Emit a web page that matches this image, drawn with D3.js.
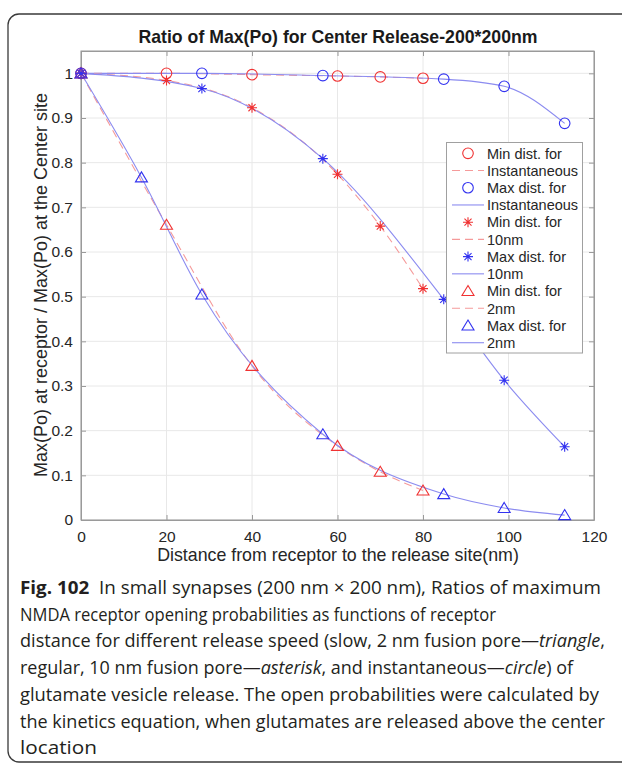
<!DOCTYPE html>
<html><head><meta charset="utf-8">
<script src="https://cdn.jsdelivr.net/npm/d3@7"></script>
<style>body{margin:0;background:#fff}</style>
</head><body><svg id="c" width="622" height="765"></svg>
<script>
// ---- data ----
const xTicks = [0, 20, 40, 60, 80, 100, 120];
const yTicks = [0, 0.1, 0.2, 0.3, 0.4, 0.5, 0.6, 0.7, 0.8, 0.9, 1];
const yTickLabels = ["0", "0.1", "0.2", "0.3", "0.4", "0.5", "0.6", "0.7", "0.8", "0.9", "1"];

const minDist = [0, 20, 40, 60, 70, 80];
const maxDist = [0, 28.28, 56.57, 84.85, 98.99, 113.14];
const maxDist2nm = [0, 14.14, 28.28, 56.57, 84.85, 98.99, 113.14];

const instMin = [1, 1.0, 0.997, 0.994, 0.992, 0.989];
const instMax = [1, 1.0, 0.995, 0.987, 0.971, 0.888];
const tenMin = [1, 0.984, 0.923, 0.774, 0.658, 0.518];
const tenMax = [1, 0.966, 0.809, 0.494, 0.313, 0.164];
const twoMin = [1, 0.661, 0.345, 0.166, 0.108, 0.066];
const twoMax = [1, 0.767, 0.505, 0.192, 0.058, 0.027, 0.011];

const legendLabels = ["Min dist. for", "Instantaneous", "Max dist. for", "Instantaneous",
  "Min dist. for", "10nm", "Max dist. for", "10nm",
  "Min dist. for", "2nm", "Max dist. for", "2nm"];

const titleText = "Ratio of Max(Po) for Center Release-200*200nm";
const xLabel = "Distance from receptor to the release site(nm)";
const yLabel = "Max(Po) at receptor / Max(Po) at the Center site";

const captionLines = [
  [["b", "Fig. 102"], ["n", "  In small synapses (200 nm \u00d7 200 nm), Ratios of maximum"]],
  [["n", "NMDA receptor opening probabilities as functions of receptor"]],
  [["n", "distance for different release speed (slow, 2 nm fusion pore\u2014"], ["i", "triangle"], ["n", ","]],
  [["n", "regular, 10 nm fusion pore\u2014"], ["i", "asterisk"], ["n", ", and instantaneous\u2014"], ["i", "circle"], ["n", ") of"]],
  [["n", "glutamate vesicle release. The open probabilities were calculated by"]],
  [["n", "the kinetics equation, when glutamates are released above the center"]],
  [["n", "location"]]
];
const captionWidths = [581, 476, 585, 553, 579, 585, 77];

// ---- drawing ----
const svg = d3.select("#c");
const RED = "#f03232", BLUE = "#3232f0";
const RED_L = "#f59a9a", BLUE_L = "#8c8cf0";
const FONT = "'Liberation Sans', Arial, Helvetica, sans-serif";

// frame
svg.append("rect").attr("x", 8).attr("y", 14).attr("width", 700).attr("height", 748)
  .attr("rx", 11).attr("fill", "none").attr("stroke", "#3a3a3a").attr("stroke-width", 1.3);

const L = 81, R = 594, T = 51, B = 520;
const x = d3.scaleLinear().domain([0, 120]).range([L, R]);
const y = d3.scaleLinear().domain([0, 1.05]).range([B, T]);

const g = svg.append("g");
// grid
g.selectAll(".gx").data(xTicks).join("line")
  .attr("x1", d => x(d)).attr("x2", d => x(d)).attr("y1", T).attr("y2", B)
  .attr("stroke", "#e8e8e8").attr("stroke-width", 1);
g.selectAll(".gy").data(yTicks).join("line")
  .attr("x1", L).attr("x2", R).attr("y1", d => y(d)).attr("y2", d => y(d))
  .attr("stroke", "#e8e8e8").attr("stroke-width", 1);

// axes
const axB = d3.axisBottom(x).tickValues(xTicks).tickSizeInner(-5).tickSizeOuter(0).tickPadding(11);
const axL = d3.axisLeft(y).tickValues(yTicks).tickFormat((d, i) => yTickLabels[i]).tickSizeInner(-5).tickSizeOuter(0).tickPadding(8);
const axT = d3.axisTop(x).tickValues(xTicks).tickSizeInner(-5).tickSizeOuter(0).tickFormat("");
const axR = d3.axisRight(y).tickValues(yTicks).tickSizeInner(-5).tickSizeOuter(0).tickFormat("");
function styleAx(sel) {
  sel.attr("font-size", 15.5).attr("font-family", FONT);
  sel.selectAll("path").attr("stroke", "#9a9a9a");
  sel.selectAll("line").attr("stroke", "#9a9a9a");
  sel.selectAll("text").attr("fill", "#262626").attr("font-size", 15.5);
}
svg.append("g").attr("transform", `translate(0,${B})`).call(axB).call(styleAx);
svg.append("g").attr("transform", `translate(${L},0)`).call(axL).call(styleAx);
svg.append("g").attr("transform", `translate(0,${T})`).call(axT).call(styleAx);
svg.append("g").attr("transform", `translate(${R},0)`).call(axR).call(styleAx);
svg.append("rect").attr("x", L).attr("y", T).attr("width", R - L).attr("height", B - T)
  .attr("fill", "none").attr("stroke", "#9a9a9a").attr("stroke-width", 1);

// lines
const lineGen = d3.line().x(d => x(d[0])).y(d => y(d[1])).curve(d3.curveMonotoneX);
const series = [
  { xs: minDist, ys: instMin, color: RED, light: RED_L, dash: "8,5", marker: "circle" },
  { xs: maxDist, ys: instMax, color: BLUE, light: BLUE_L, dash: null, marker: "circle" },
  { xs: minDist, ys: tenMin, color: RED, light: RED_L, dash: "8,5", marker: "star" },
  { xs: maxDist, ys: tenMax, color: BLUE, light: BLUE_L, dash: null, marker: "star" },
  { xs: minDist, ys: twoMin, color: RED, light: RED_L, dash: "8,5", marker: "tri" },
  { xs: maxDist2nm, ys: twoMax, color: BLUE, light: BLUE_L, dash: null, marker: "tri" }
];

function drawMarker(sel, type, color) {
  if (type === "circle") {
    sel.append("circle").attr("r", 5.3).attr("fill", "none").attr("stroke", color).attr("stroke-width", 1.1);
  } else if (type === "tri") {
    sel.append("path").attr("d", "M0,-5.5L6,4.5L-6,4.5Z").attr("fill", "none").attr("stroke", color).attr("stroke-width", 1.1);
  } else {
    const r = 5;
    const a = r * Math.SQRT1_2;
    sel.append("path").attr("d", `M${-r},0L${r},0M0,${-r}L0,${r}M${-a},${-a}L${a},${a}M${-a},${a}L${a},${-a}`)
      .attr("stroke", color).attr("stroke-width", 1.1).attr("fill", "none");
    sel.append("circle").attr("r", 1.2).attr("fill", color);
  }
}

series.forEach(s => {
  const pts = s.xs.map((v, i) => [v, s.ys[i]]);
  svg.append("path").attr("d", lineGen(pts)).attr("fill", "none")
    .attr("stroke", s.light).attr("stroke-width", 1.1)
    .attr("stroke-dasharray", s.dash);
});
series.forEach(s => {
  s.xs.forEach((v, i) => {
    const m = svg.append("g").attr("transform", `translate(${x(v)},${y(s.ys[i])})`);
    drawMarker(m, s.marker, s.color);
  });
});

// legend
const lg = svg.append("g");
lg.append("rect").attr("x", 446.5).attr("y", 142.5).attr("width", 136).attr("height", 210.5)
  .attr("fill", "#fff").attr("stroke", "#a0a0a0").attr("stroke-width", 1);
const rowY = i => 153.3 + i * 17.22;
legendLabels.forEach((t, i) => {
  lg.append("text").attr("x", 487).attr("y", rowY(i)).attr("dy", "0.36em")
    .style("font-family", FONT).style("font-size", "14.5px").attr("fill", "#262626").text(t);
  const s = series[Math.floor(i / 2)];
  if (i % 2 === 0) {
    const m = lg.append("g").attr("transform", `translate(468,${rowY(i)})`);
    drawMarker(m, s.marker, s.color);
  } else {
    lg.append("line").attr("x1", 452).attr("x2", 484).attr("y1", rowY(i)).attr("y2", rowY(i))
      .attr("stroke", s.light).attr("stroke-width", 1.1).attr("stroke-dasharray", s.dash);
  }
});

// titles
svg.append("text").attr("x", 338).attr("y", 43).attr("text-anchor", "middle")
  .style("font-family", FONT).style("font-size", "17.7px").style("font-weight", "bold")
  .attr("fill", "#1a1a1a").text(titleText);
svg.append("text").attr("x", 338).attr("y", 561).attr("text-anchor", "middle")
  .style("font-family", FONT).style("font-size", "17.8px").attr("fill", "#262626").text(xLabel);
svg.append("text").attr("transform", "translate(47,285) rotate(-90)").attr("text-anchor", "middle")
  .style("font-family", FONT).style("font-size", "18px").attr("fill", "#262626").text(yLabel);

// caption
captionLines.forEach((parts, i) => {
  const t = svg.append("text").attr("x", 20).attr("y", 594 + i * 26.7)
    .attr("textLength", captionWidths[i]).attr("lengthAdjust", "spacingAndGlyphs")
    .style("font-family", "'Open Sans', 'Noto Sans', sans-serif").style("font-size", "17.5px")
    .attr("fill", "#231f20").attr("xml:space", "preserve").style("white-space", "pre");
  parts.forEach(([k, txt]) => {
    const ts = t.append("tspan").text(txt);
    if (k === "b") ts.style("font-weight", "bold");
    if (k === "i") ts.style("font-style", "italic");
  });
});
</script>
</body></html>
